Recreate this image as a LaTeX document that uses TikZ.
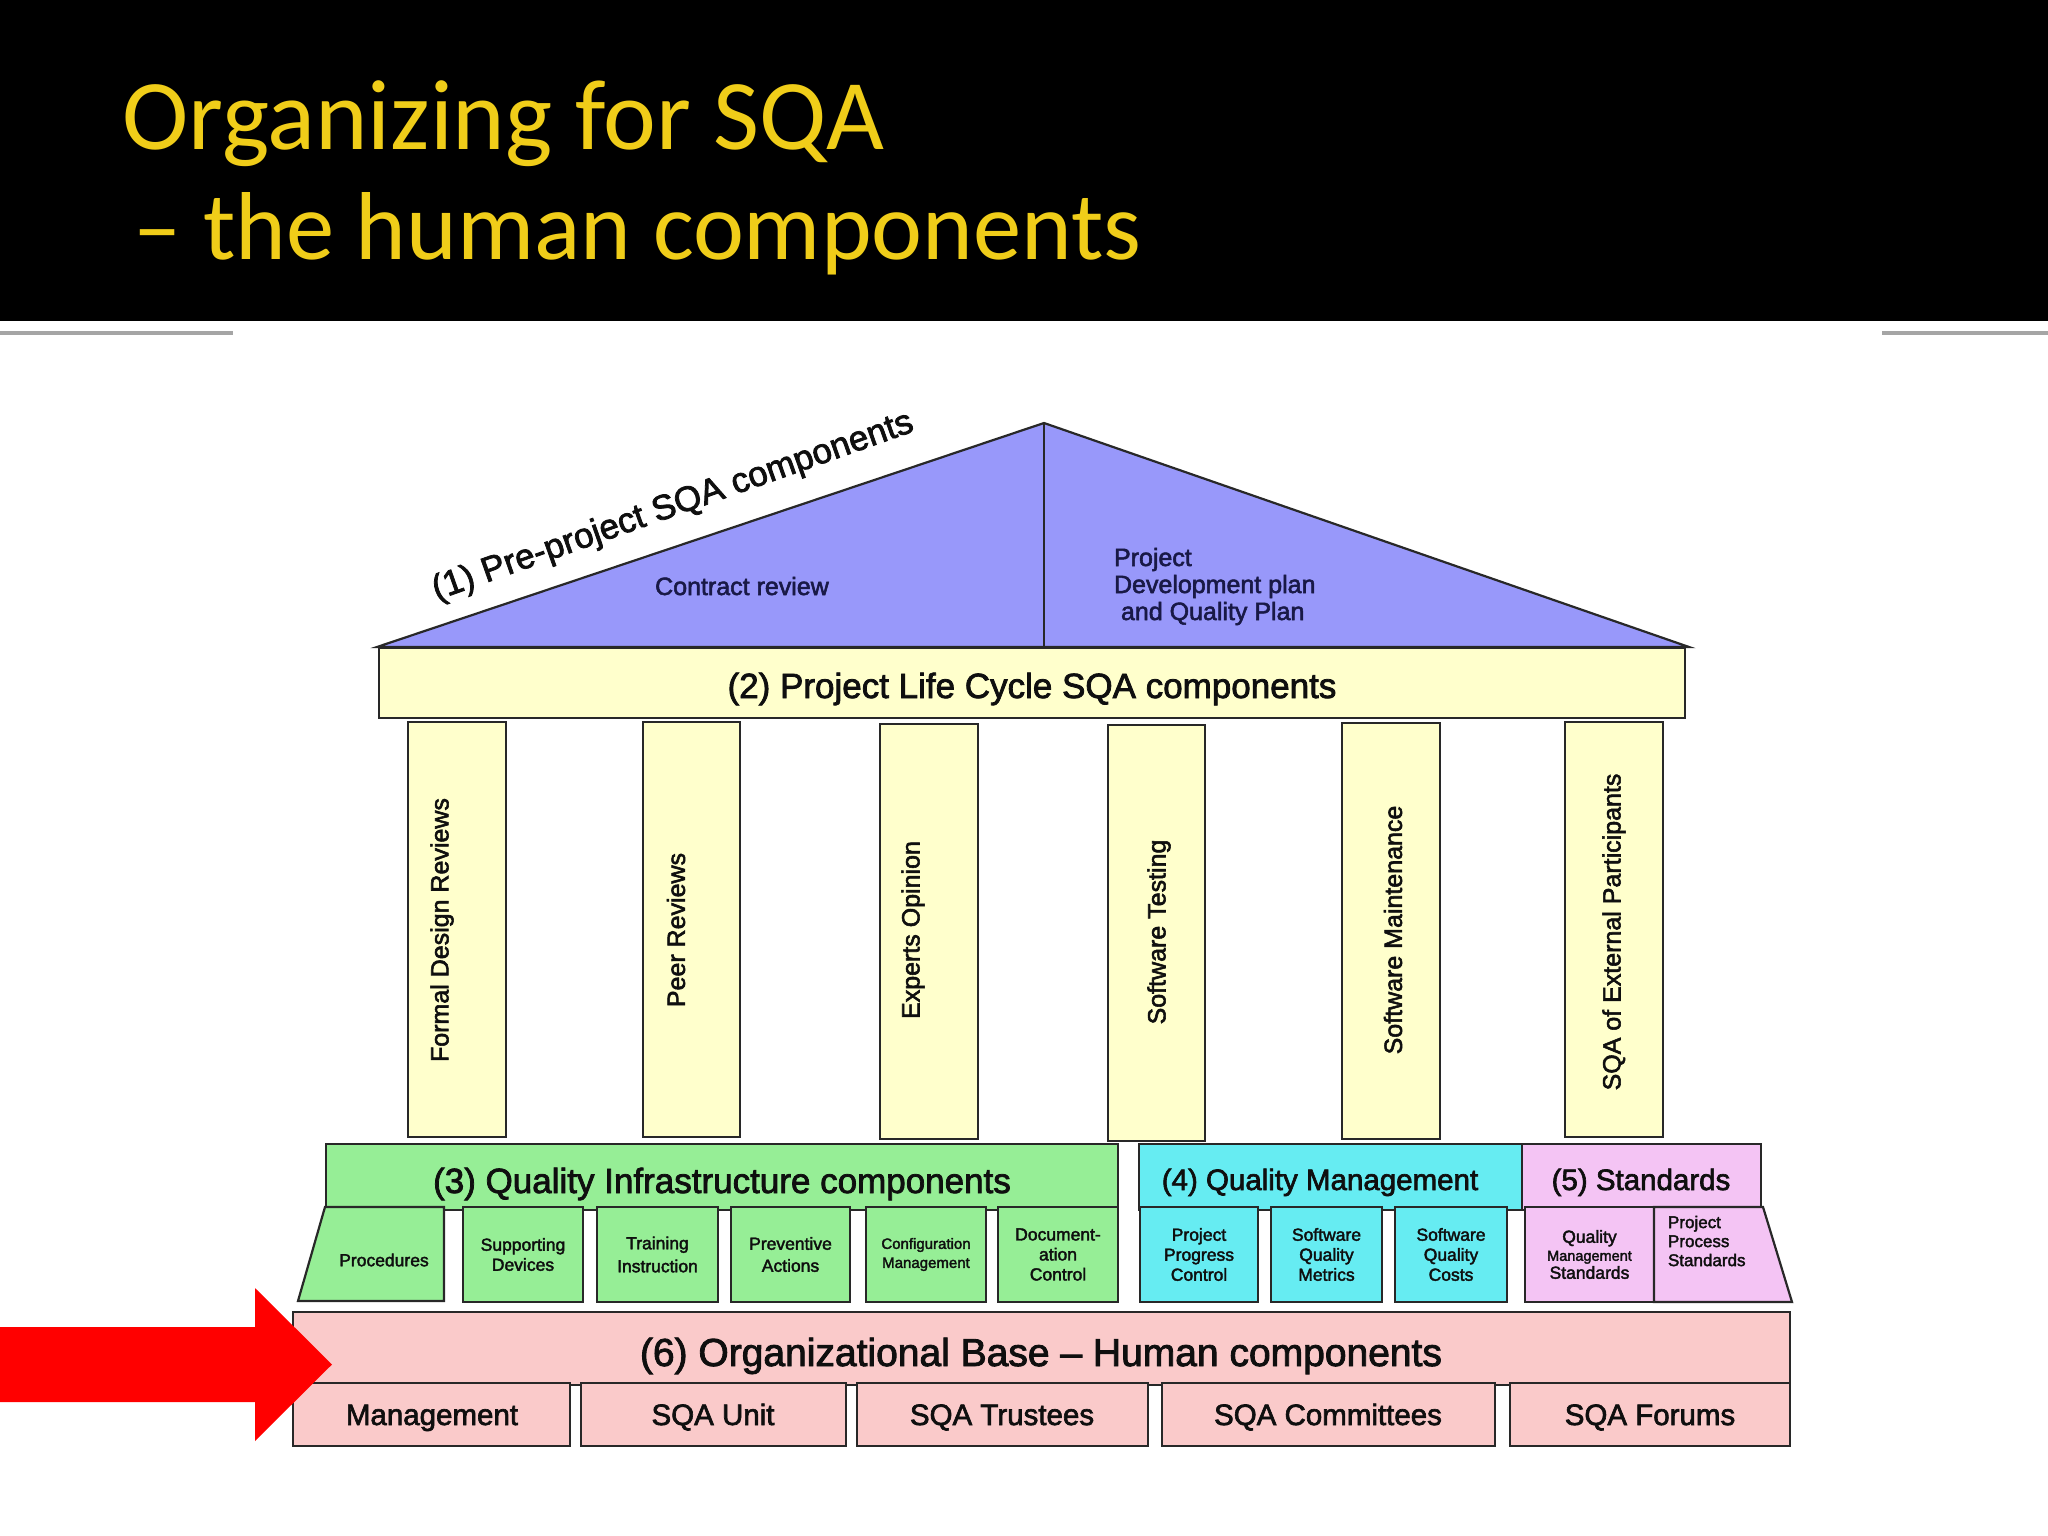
\documentclass[tikz,border=0pt]{standalone}
\usepackage{fontspec}
\setmainfont{Liberation Sans}[FakeBold=2.2]
\newfontfamily\titlefont{Carlito}
\newcommand\setfs[2]{\fontsize{#1bp}{#2bp}\selectfont}
\definecolor{roofc}{RGB}{152,152,250}
\definecolor{beamc}{RGB}{255,255,204}
\definecolor{grnc}{RGB}{150,238,150}
\definecolor{cync}{RGB}{102,236,242}
\definecolor{pnkc}{RGB}{244,196,244}
\definecolor{salc}{RGB}{250,202,202}
\definecolor{ttlc}{RGB}{240,205,25}
\definecolor{edgec}{RGB}{40,40,40}
\definecolor{inkc}{RGB}{15,15,15}
\definecolor{navyc}{RGB}{25,25,70}
\tikzset{
  part/.style={draw=edgec, line width=2.2bp, inner sep=0pt, outer sep=0pt, text=inkc},
  lbl/.style={inner sep=0pt, outer sep=0pt, text=inkc, align=center},
  pilltext/.style={lbl, rotate=90, font=\setfs{25}{30}},
  bandtext/.style={lbl, anchor=base, font=\setfs{35}{40}},
  smalltext/.style={lbl, font=\setfs{17.5}{20}},
  titletext/.style={anchor=base west, inner sep=0pt, text=ttlc},
}
% #1 options, #2 name, #3 x1, #4 y1, #5 x2, #6 y2, #7 fill, #8 text
\newcommand\bx[8][]{%
  \node[part, fill=#7, minimum width={(#5-#3)*1bp}, minimum height={(#6-#4)*1bp}, #1]
    (#2) at ({(#3+#5)/2},{(#4+#6)/2}) {#8};}
\begin{document}
\begin{tikzpicture}[x=1bp, y=-1bp]
\useasboundingbox (0,0) rectangle (2048,1536);
\fill[white] (0,0) rectangle (2048,1536);
% banner
\fill[black] (0,0) rectangle (2048,321);
\node[titletext, font=\titlefont\setfs{100}{100}] (title1) at (122,150) {Organizing for SQA};
\node[titletext, font=\titlefont\setfs{96.5}{96.5}] (title2) at (133,259) {– the human components};
\draw[line width=4bp, color={rgb,255:red,165;green,165;blue,165}] (0,333) -- (233,333);
\draw[line width=4bp, color={rgb,255:red,165;green,165;blue,165}] (1882,333) -- (2048,333);

% roof
\coordinate (apex) at (1044,423);
\coordinate (rl) at (377,647);
\coordinate (rr) at (1689,647);
\coordinate (rm) at (1044,647);
\filldraw[fill=roofc, draw=edgec, line width=2.2bp, line join=miter] (rl) -- (apex) -- (rr) -- cycle;
\draw[edgec, line width=2bp] (apex) -- (rm);
\node[lbl, rotate=19.5, font=\setfs{35}{40}] (pre) at (673,507) {(1) Pre-project SQA components};
\node[lbl, anchor=base, text=navyc, font=\setfs{25}{28}] (contract) at (742,595) {Contract review};
\node[lbl, anchor=base west, text=navyc, font=\setfs{25}{28}] (plan1) at (1114,566) {Project};
\node[lbl, anchor=base west, text=navyc, font=\setfs{25}{28}] (plan2) at (1114,593) {Development plan};
\node[lbl, anchor=base west, text=navyc, font=\setfs{25}{28}] (plan3) at (1121,620) {and Quality Plan};

% beam
\bx{beam}{379}{648}{1685}{718}{beamc}{}
\node[bandtext] (beamt) at (1032,698) {(2) Project Life Cycle SQA components};

% pillars
\bx{p1}{408}{722}{506}{1137}{beamc}{}
\bx{p2}{643}{722}{740}{1137}{beamc}{}
\bx{p3}{880}{724}{978}{1139}{beamc}{}
\bx{p4}{1108}{725}{1205}{1141}{beamc}{}
\bx{p5}{1342}{723}{1440}{1139}{beamc}{}
\bx{p6}{1565}{722}{1663}{1137}{beamc}{}
\node[pilltext] (p1t) at (442,930) {Formal Design Reviews};
\node[pilltext] (p2t) at (676,930) {Peer Reviews};
\node[pilltext] (p3t) at (913,930) {Experts Opinion};
\node[pilltext] (p4t) at (1159,932) {Software Testing};
\node[pilltext] (p5t) at (1393,930) {Software Maintenance};
\node[pilltext] (p6t) at (1614,932) {SQA of External Participants};

% (3) quality infrastructure
\bx{qi}{326}{1144}{1118}{1210}{grnc}{}
\node[bandtext] (qit) at (722,1193) {(3) Quality Infrastructure components};
\filldraw[fill=grnc, draw=edgec, line width=2.2bp] (325,1207) -- (444,1207) -- (444,1301) -- (298,1301) -- cycle;
\node[smalltext] (proc) at (384,1260) {Procedures};
\bx[smalltext, part]{supp}{463}{1207}{583}{1302}{grnc}{Supporting\\Devices}
\bx[smalltext, part, font=\setfs{17.5}{23}]{train}{597}{1207}{718}{1302}{grnc}{Training\\Instruction}
\bx[smalltext, part, font=\setfs{17.5}{22}]{prev}{731}{1207}{850}{1302}{grnc}{Preventive\\Actions}
\bx[smalltext, part, font=\setfs{15}{19}]{conf}{866}{1207}{986}{1302}{grnc}{Configuration\\Management}
\bx[smalltext, part, font=\setfs{17.5}{20}]{docu}{998}{1207}{1118}{1302}{grnc}{Document-\\ation\\Control}

% (4) quality management
\bx{qm}{1139}{1144}{1522}{1210}{cync}{}
\node[bandtext, font=\setfs{29.5}{34}] (qmt) at (1320,1190) {(4) Quality Management};
\bx[smalltext, part]{ppc}{1140}{1207}{1258}{1302}{cync}{Project\\Progress\\Control}
\bx[smalltext, part]{sqm}{1271}{1207}{1382}{1302}{cync}{Software\\Quality\\Metrics}
\bx[smalltext, part]{sqc}{1395}{1207}{1507}{1302}{cync}{Software\\Quality\\Costs}

% (5) standards
\bx{st}{1522}{1144}{1761}{1210}{pnkc}{}
\node[bandtext, font=\setfs{29.5}{34}] (stt) at (1641,1190) {(5) Standards};
\bx[smalltext, part, font=\setfs{17.5}{18}]{qms}{1525}{1207}{1654}{1302}{pnkc}{Quality\\{\setfs{14.5}{18}Management}\\Standards}
\filldraw[fill=pnkc, draw=edgec, line width=2.2bp] (1654,1207) -- (1763,1207) -- (1792,1302) -- (1654,1302) -- cycle;
\node[lbl, anchor=west, align=left, font=\setfs{17}{19}] (pps) at (1668,1241) {Project\\Process\\Standards};

% (6) organizational base
\bx{ob}{293}{1312}{1790}{1385}{salc}{}
\node[bandtext, font=\setfs{39}{44}] (obt) at (1041,1366) {(6) Organizational Base – Human components};
\bx{mgmt}{293}{1383}{570}{1446}{salc}{}
\bx{unit}{581}{1383}{846}{1446}{salc}{}
\bx{trus}{857}{1383}{1148}{1446}{salc}{}
\bx{comm}{1162}{1383}{1495}{1446}{salc}{}
\bx{foru}{1510}{1383}{1790}{1446}{salc}{}
\node[bandtext, font=\setfs{29.5}{34}] (mgmtt) at (432,1425) {Management};
\node[bandtext, font=\setfs{29.5}{34}] (unitt) at (713,1425) {SQA Unit};
\node[bandtext, font=\setfs{29.5}{34}] (trust) at (1002,1425) {SQA Trustees};
\node[bandtext, font=\setfs{29.5}{34}] (commt) at (1328,1425) {SQA Committees};
\node[bandtext, font=\setfs{29.5}{34}] (forut) at (1650,1425) {SQA Forums};

% red arrow
\fill[red] (0,1327) -- (255,1327) -- (255,1288) -- (332,1364.5) -- (255,1441) -- (255,1402) -- (0,1402) -- cycle;
\end{tikzpicture}
\end{document}
